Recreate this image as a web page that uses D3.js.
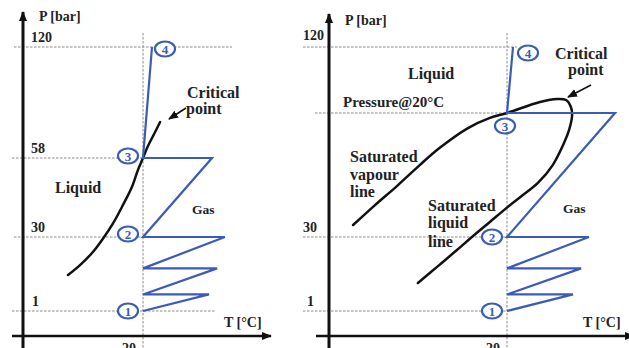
<!DOCTYPE html>
<html>
<head>
<meta charset="utf-8">
<script src="https://cdn.jsdelivr.net/npm/d3@7"></script>
<style>
  html, body { margin: 0; padding: 0; background: #fff; }
  svg { display: block; }
  text { font-family: "Liberation Serif", "Times New Roman", serif; font-weight: bold; fill: #222; }
</style>
</head>
<body>
<svg id="chart" width="629" height="348"></svg>
<script>
// Pressure levels marked on the P axis (bar) and their labels per panel
const pressureTicks = [1, 30, 58, 120];
const leftTickLabels = ["1", "30", "58", "120"];
const rightTickLabels = ["1", "30", "", "120"];
const tempTickValue = 20;
const tempTickLabel = "20";

// Compression path shared by both panels: state 1 up to state 2 (T °C, P bar)
const lowCycle = [[20, 1], [42, 7.5], [20, 7.5], [44.7, 17.7], [20, 17.7], [47.3, 30], [20, 30]];
// From state 2 to state 3 and on to state 4
const leftHighCycle = [[20, 30], [43, 58], [20, 58], [23, 120]];
const rightHighCycle = [[20, 30], [56, 58], [20, 58], [22, 120]];

// Numbered states 1..4
const leftStates = [[20, 1], [20, 30], [20, 58], [23, 120]];
const rightStates = [[20, 1], [20, 30], [20, 58], [22, 120]];

// Vapour pressure curve (left panel)
const vapourCurve = [
  [-5, 15.1], [-1, 19.0], [3.3, 24.1], [6.7, 29.4], [10, 34.8], [13.3, 41.3],
  [16.3, 47.7], [18.3, 53.7], [20, 58], [21.5, 64.1], [23.7, 71.4], [25.7, 78.1]
];
// Saturation dome (right panel): vapour line, critical point, liquid line
const domeCurve = [
  [-31.3, 32.7], [-24, 37.2], [-16.7, 41.5], [-9, 46.3], [-2.3, 50.2],
  [7, 54.6], [14.3, 56.9], [20, 58], [31, 68.3], [36.7, 71.2], [39.7, 70.2],
  [41.3, 63.6], [41.7, 57.5], [40.7, 54.2], [39, 51.2], [35.3, 46.3], [30.3, 42.2],
  [25, 39.3], [20.3, 36.8], [14.3, 33.4], [8.3, 30.0], [3.3, 24.9], [-3, 18.6], [-9.7, 12.0]
];

const BLUE = "#3b5cb6";
const svg = d3.select("#chart");

const defs = svg.append("defs");
defs.append("marker")
  .attr("id", "arrowHead").attr("viewBox", "0 0 10 10")
  .attr("refX", 9).attr("refY", 5)
  .attr("markerWidth", 10).attr("markerHeight", 10)
  .attr("markerUnits", "userSpaceOnUse")
  .attr("orient", "auto")
  .append("path").attr("d", "M0,1 L10,5 L0,9 Z").attr("fill", "#111");

function panel(cfg) {
  const g = svg.append("g");
  const x = d3.scaleLinear().domain([20, 60]).range([cfg.x20, cfg.x20 + 120]);
  const y = d3.scaleLinear().domain(pressureTicks).range(cfg.pRange);

  // dotted guide lines
  const guides = g.append("g").attr("stroke", "#8a8a8a").attr("stroke-width", 1)
    .attr("stroke-dasharray", "2.5,1.5").attr("fill", "none");
  pressureTicks.forEach((p, i) => {
    const ext = cfg.guides[i];
    guides.append("line").attr("x1", ext[0]).attr("x2", ext[1])
      .attr("y1", y(p)).attr("y2", y(p));
  });
  guides.append("line").attr("x1", x(tempTickValue)).attr("x2", x(tempTickValue))
    .attr("y1", 33).attr("y2", 348);

  // axes with arrows
  const axes = g.append("g").attr("stroke", "#111").attr("fill", "none");
  axes.append("line").attr("x1", cfg.axisX).attr("x2", cfg.axisX)
    .attr("y1", 348).attr("y2", cfg.yTip).attr("stroke-width", 3)
    .attr("marker-end", "url(#arrowHead)");
  axes.append("line").attr("x1", cfg.xStart).attr("x2", cfg.xTip)
    .attr("y1", 336).attr("y2", 336).attr("stroke-width", 2.5)
    .attr("marker-end", "url(#arrowHead)");

  // tick labels
  pressureTicks.forEach((p, i) => {
    const lab = cfg.tickLabels[i];
    if (!lab) return;
    g.append("text").attr("x", cfg.tickX[i]).attr("y", y(p) - cfg.tickDy[i])
      .attr("font-size", 14).text(lab);
  });
  g.append("text").attr("x", x(tempTickValue) - 7).attr("y", 353)
    .attr("text-anchor", "end").attr("font-size", 14).text(tempTickLabel);

  // axis titles
  g.append("text").attr("x", cfg.axisX + 16).attr("y", cfg.pTitleY)
    .attr("font-size", 14).text("P [bar]");
  g.append("text").attr("x", cfg.tTitleX).attr("y", 327)
    .attr("font-size", 14).text("T [°C]");

  // saturation curve
  const curveLine = d3.line().x(d => x(d[0])).y(d => y(d[1])).curve(d3.curveCatmullRom.alpha(0.5));
  g.append("path").datum(cfg.curve).attr("d", curveLine)
    .attr("fill", "none").attr("stroke", "#111").attr("stroke-width", 2.5)
    .attr("stroke-linecap", "round");

  // cycle path
  const cycleLine = d3.line().x(d => x(d[0])).y(d => y(d[1]));
  const cycle = lowCycle.concat(cfg.highCycle.slice(1));
  g.append("path").datum(cycle).attr("d", cycleLine)
    .attr("fill", "none").attr("stroke", BLUE).attr("stroke-width", 2.2)
    .attr("stroke-linejoin", "miter");

  // numbered state markers
  cfg.states.forEach((s, i) => {
    const cx = x(s[0]) + cfg.stateOffsets[i][0];
    const cy = y(s[1]) + cfg.stateOffsets[i][1];
    g.append("ellipse").attr("cx", cx).attr("cy", cy).attr("rx", 10).attr("ry", 7.5)
      .attr("fill", "#fff").attr("stroke", BLUE).attr("stroke-width", 2.2);
    g.append("text").attr("x", cx).attr("y", cy + 4.5).attr("text-anchor", "middle")
      .attr("font-size", 13).attr("font-weight", "normal").style("fill", BLUE)
      .text(String(i + 1));
  });

  // critical point pointer
  g.append("line").attr("x1", cfg.arrow[0]).attr("y1", cfg.arrow[1])
    .attr("x2", cfg.arrow[2]).attr("y2", cfg.arrow[3])
    .attr("stroke", "#111").attr("stroke-width", 1.5)
    .attr("marker-end", "url(#arrowHead)");

  // text labels
  cfg.labels.forEach(l => {
    g.append("text").attr("x", l[0]).attr("y", l[1]).attr("font-size", l[3]).text(l[2]);
  });
  return g;
}

panel({
  x20: 143, pRange: [311, 237, 158, 47],
  axisX: 23, yTip: 12, xStart: 12, xTip: 271, pTitleY: 21, tTitleX: 224,
  guides: [[12, 215], [14, 143], [12, 143], [14, 232]],
  tickLabels: leftTickLabels, tickX: [32, 31, 31, 31], tickDy: [5, 5, 5, 5],
  curve: vapourCurve, highCycle: leftHighCycle, states: leftStates,
  stateOffsets: [[-15, 0], [-15, -3], [-15, -2], [13, 2]],
  arrow: [186, 108, 169, 119],
  labels: [
    [187, 98, "Critical", 16], [186, 114, "point", 16],
    [55, 193, "Liquid", 16], [192, 214, "Gas", 13.5]
  ]
});

panel({
  x20: 507, pRange: [311, 237, 113, 47],
  axisX: 329, yTip: 14, xStart: 316, xTip: 634, pTitleY: 25, tTitleX: 583,
  guides: [[303, 507], [303, 507], [315, 507], [303, 517]],
  tickLabels: rightTickLabels, tickX: [307, 303, 303, 303], tickDy: [5, 5, 5, 7],
  curve: domeCurve, highCycle: rightHighCycle, states: rightStates,
  stateOffsets: [[-15, 0], [-15, 0], [-2, 13], [15, 6]],
  arrow: [591, 85, 568, 97],
  labels: [
    [555, 59, "Critical", 16], [568, 75, "point", 16],
    [408, 79, "Liquid", 16], [343, 107, "Pressure@20°C", 15],
    [350, 162, "Saturated", 16], [350, 180, "vapour", 16], [350, 197, "line", 16],
    [428, 211, "Saturated", 16], [428, 228, "liquid", 16], [428, 247, "line", 16],
    [563, 213, "Gas", 13.5]
  ]
});
</script>
</body>
</html>
